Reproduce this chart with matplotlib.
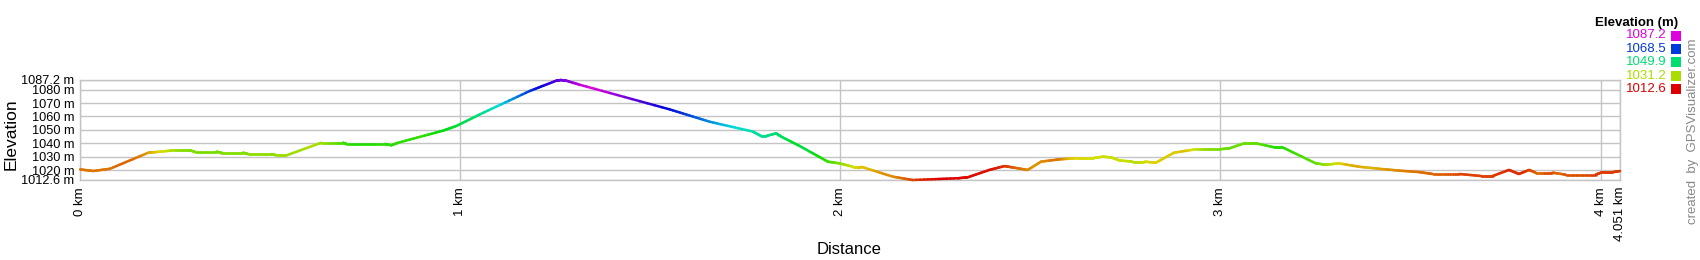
import numpy as np
import matplotlib
matplotlib.use("Agg")
import matplotlib.pyplot as plt
from matplotlib.collections import LineCollection
from matplotlib.colors import LinearSegmentedColormap, hsv_to_rgb
from matplotlib.patches import Rectangle

# ---------------- data ----------------
distance_km = [0.0, 0.035, 0.079, 0.18, 0.21, 0.245, 0.289, 0.302, 0.359, 0.372,
               0.429, 0.442, 0.504, 0.517, 0.543, 0.635, 0.692, 0.701, 0.802, 0.819,
               0.837, 0.955, 0.99, 1.052, 1.183, 1.253, 1.265, 1.279, 1.314, 1.551,
               1.656, 1.77, 1.792, 1.805, 1.831, 1.845, 1.893, 1.967, 1.998, 2.033,
               2.055, 2.138, 2.19, 2.309, 2.335, 2.392, 2.432, 2.453, 2.493, 2.528,
               2.576, 2.62, 2.664, 2.69, 2.712, 2.734, 2.769, 2.8, 2.83, 2.878,
               2.935, 2.997, 3.023, 3.063, 3.093, 3.141, 3.163, 3.251, 3.277, 3.312,
               3.365, 3.417, 3.47, 3.523, 3.558, 3.628, 3.685, 3.716, 3.759, 3.785,
               3.812, 3.829, 3.873, 3.908, 3.987, 4.004, 4.031, 4.051]
elevation_m = [1020.5, 1019.3, 1021.0, 1033.0, 1033.7, 1034.7, 1034.7, 1033.7, 1033.7, 1033.0,
               1033.0, 1032.0, 1032.0, 1031.0, 1031.0, 1040.4, 1040.4, 1039.5, 1039.5, 1038.5,
               1040.4, 1049.4, 1052.9, 1061.6, 1079.0, 1086.7, 1087.2, 1086.7, 1083.7, 1065.3,
               1056.1, 1048.7, 1045.4, 1045.4, 1047.4, 1044.9, 1038.0, 1026.3, 1025.0, 1022.5,
               1022.5, 1015.1, 1012.6, 1013.9, 1014.6, 1020.1, 1023.0, 1022.0, 1020.1, 1026.3,
               1028.0, 1028.8, 1028.8, 1030.0, 1029.5, 1027.2, 1026.3, 1026.3, 1025.5, 1033.0,
               1035.5, 1035.5, 1036.2, 1040.0, 1040.0, 1037.0, 1037.0, 1025.0, 1024.0, 1025.0,
               1022.5, 1021.0, 1019.6, 1018.5, 1017.1, 1017.1, 1015.6, 1015.6, 1020.1, 1017.1,
               1020.1, 1018.1, 1018.1, 1016.6, 1016.6, 1018.4, 1018.4, 1019.3]

y_ticks = [1012.6, 1020, 1030, 1040, 1050, 1060, 1070, 1080, 1087.2]
y_tick_labels = ["1012.6 m", "1020 m", "1030 m", "1040 m", "1050 m", "1060 m",
                 "1070 m", "1080 m", "1087.2 m"]
x_ticks = [0, 1, 2, 3, 4, 4.051]
x_tick_labels = ["0 km", "1 km", "2 km", "3 km", "4 km", "4.051 km"]
legend_values = ["1087.2", "1068.5", "1049.9", "1031.2", "1012.6"]

# ---------------- style ----------------
W, H = 1700, 260
DPI = 100
FONT = ["Liberation Sans", "DejaVu Sans"]
plt.rcParams["font.family"] = FONT

ymin, ymax = y_ticks[0], y_ticks[-1]
xmax = x_ticks[-1]

# hue rainbow red -> magenta
hues = np.linspace(0, 300 / 360.0, 64)
cols = hsv_to_rgb(np.stack([hues, np.ones_like(hues), np.full_like(hues, 0.87)], axis=1))
cmap = LinearSegmentedColormap.from_list("elev", cols)

fig = plt.figure(figsize=(W / DPI, H / DPI), dpi=DPI)
ax = fig.add_axes([80 / W, (H - 180) / H, 1540 / W, 100 / H])
ax.set_xlim(0, xmax)
ax.set_ylim(ymin, ymax)

grid_c = "#c4c4c4"
for yv in y_ticks:
    ax.axhline(yv, color=grid_c, lw=1, zorder=1)
for xv in x_ticks:
    ax.axvline(xv, color=grid_c, lw=1, zorder=1)
for s in ax.spines.values():
    s.set_color(grid_c)
    s.set_linewidth(1)

# gradient-coloured profile (each straight segment drawn in small pieces for colour;
# colour follows the elevation slightly behind along the track, like the original)
x = np.asarray(distance_km)
y = np.asarray(elevation_m)
LAG = 0.08
segs, vals = [], []
for i in range(len(x) - 1):
    t = np.linspace(0, 1, 13)
    xs = x[i] + (x[i + 1] - x[i]) * t
    ys = y[i] + (y[i + 1] - y[i]) * t
    for j in range(len(t) - 1):
        segs.append([(xs[j], ys[j]), (xs[j + 1], ys[j + 1])])
        xm = 0.5 * (xs[j] + xs[j + 1])
        vals.append(np.interp(max(xm - LAG, 0.0), x, y))
lc = LineCollection(segs, cmap=cmap, norm=plt.Normalize(ymin, ymax),
                    linewidths=1.8, capstyle="round", joinstyle="round", zorder=3)
lc.set_array(np.asarray(vals))
lc.set_clip_on(False)
ax.add_collection(lc)

ax.set_yticks(y_ticks)
ax.set_yticklabels(y_tick_labels, fontsize=9.2)
ax.set_xticks(x_ticks)
ax.set_xticklabels(x_tick_labels, fontsize=9.5, rotation=90, va="top")
ax.tick_params(axis="both", length=0, colors="black")
ax.tick_params(axis="y", pad=4)
ax.tick_params(axis="x", pad=5)

fig.text(11 / W, 1 - 134 / H, "Elevation", rotation=90, ha="center", va="center", fontsize=12.5)
fig.text(849 / W, 1 - 250 / H, "Distance", ha="center", va="center", fontsize=12)

# legend
fig.text(1637 / W, 1 - 23 / H, "Elevation (m)", ha="center", va="center",
         fontsize=9.5, fontweight="bold")
row_y = [35.5, 49, 62.3, 75.7, 89]
for lbl, ry in zip(legend_values, row_y):
    c = cmap((float(lbl) - ymin) / (ymax - ymin))
    fig.text(1667 / W, 1 - ry / H, lbl, ha="right", va="center", fontsize=9.5, color=c)
    fig.patches.append(Rectangle((1671 / W, 1 - (ry + 5) / H), 10 / W, 10 / H,
                                 transform=fig.transFigure, facecolor=c, edgecolor="none"))

fig.text(1693 / W, 1 - 131 / H, "created  by  GPSVisualizer.com", rotation=90,
         ha="center", va="center", fontsize=9.5, color="#888888")

fig.savefig("out.png", dpi=DPI)
